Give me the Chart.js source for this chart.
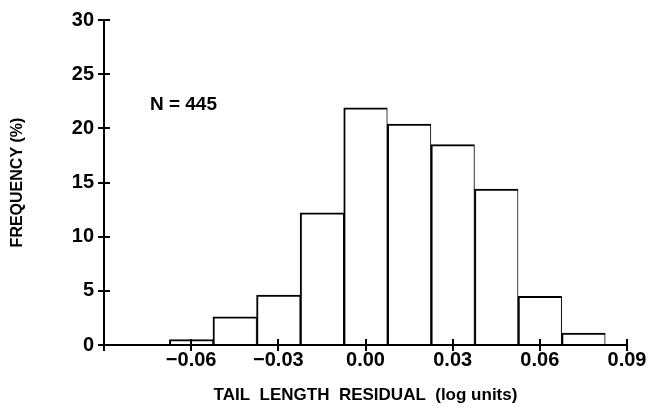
<!DOCTYPE html>
<html>
<head>
<meta charset="utf-8">
<script src="https://cdn.jsdelivr.net/npm/chart.js@4"></script>
<style>
  html, body { margin: 0; padding: 0; background: #fff; }
  #c { display: block; }
</style>
</head>
<body>
<canvas id="c" width="648" height="410"></canvas>
<script>
const binCenters = [-0.06, -0.045, -0.03, -0.015, 0.0, 0.015, 0.03, 0.045, 0.06, 0.075];
const frequency  = [0.5, 2.6, 4.6, 12.2, 21.9, 20.4, 18.5, 14.4, 4.5, 1.1];
const xTickLabels = ['', '\u22120.06', '\u22120.03', '0.00', '0.03', '0.06', '0.09'];
const yTickLabels = ['0', '5', '10', '15', '20', '25', '30'];
const sampleNote = 'N = 445';
const xTitle = 'TAIL  LENGTH  RESIDUAL  (log units)';
const yTitle = 'FREQUENCY (%)';

const FONT = '"Liberation Sans", Arial, sans-serif';

const innerTicks = {
  id: 'innerTicks',
  afterDraw(chart) {
    const ctx = chart.ctx;
    const xs = chart.scales.x, ys = chart.scales.y;
    const ca = chart.chartArea;
    ctx.save();
    ctx.strokeStyle = '#000';
    ctx.lineWidth = 2;
    ctx.beginPath();
    xs.ticks.forEach(t => {
      const px = Math.round(xs.getPixelForValue(t.value));
      ctx.moveTo(px, ca.bottom);
      ctx.lineTo(px, ca.bottom - 6);
    });
    ys.ticks.forEach(t => {
      const py = Math.round(ys.getPixelForValue(t.value));
      ctx.moveTo(ca.left, py);
      ctx.lineTo(ca.left + 6, py);
    });
    ctx.stroke();
    // sample size note
    ctx.fillStyle = '#000';
    ctx.font = 'bold 19px ' + FONT;
    ctx.textBaseline = 'middle';
    ctx.textAlign = 'left';
    ctx.fillText(sampleNote, xs.getPixelForValue(-0.0742), ys.getPixelForValue(22.2));
    ctx.restore();
  }
};

new Chart(document.getElementById('c'), {
  type: 'bar',
  data: {
    datasets: [{
      data: binCenters.map((x, i) => ({ x: x, y: frequency[i] })),
      backgroundColor: '#fff',
      borderColor: '#000',
      borderWidth: { top: 2, left: 2, right: 1, bottom: 0 },
      borderSkipped: false,
      barPercentage: 1.0,
      categoryPercentage: 1.0,
      grouped: false
    }]
  },
  options: {
    responsive: false,
    animation: false,
    devicePixelRatio: 1,
    layout: { padding: { top: 20, right: 21, left: 0, bottom: 0 } },
    plugins: {
      legend: { display: false },
      tooltip: { enabled: false }
    },
    scales: {
      x: {
        type: 'linear',
        min: -0.09,
        max: 0.09,
        offset: false,
        afterFit(scale) { scale.height = 65; },
        ticks: {
          stepSize: 0.03,
          autoSkip: false,
          maxRotation: 0,
          color: '#000',
          padding: -3,
          font: { family: FONT, size: 20, weight: 'bold' },
          callback: (v, i) => xTickLabels[i]
        },
        grid: { offset: false, drawOnChartArea: false, color: '#000', lineWidth: 2, tickLength: 6 },
        border: { display: true, color: '#000', width: 2 },
        title: {
          display: true,
          text: xTitle,
          color: '#000',
          font: { family: FONT, size: 17, weight: 'bold' },
          padding: { top: 0, bottom: 4 }
        }
      },
      y: {
        min: 0,
        max: 30,
        afterFit(scale) { scale.width = 104; },
        ticks: {
          stepSize: 5,
          color: '#000',
          padding: 4,
          font: { family: FONT, size: 20, weight: 'bold' },
          callback: (v, i) => yTickLabels[i]
        },
        grid: { drawOnChartArea: false, color: '#000', lineWidth: 2, tickLength: 6 },
        border: { display: true, color: '#000', width: 2 },
        title: {
          display: true,
          text: yTitle,
          color: '#000',
          font: { family: FONT, size: 16, weight: 'bold' },
          padding: { top: 8, bottom: 0 }
        }
      }
    }
  },
  plugins: [innerTicks]
});
</script>
</body>
</html>
